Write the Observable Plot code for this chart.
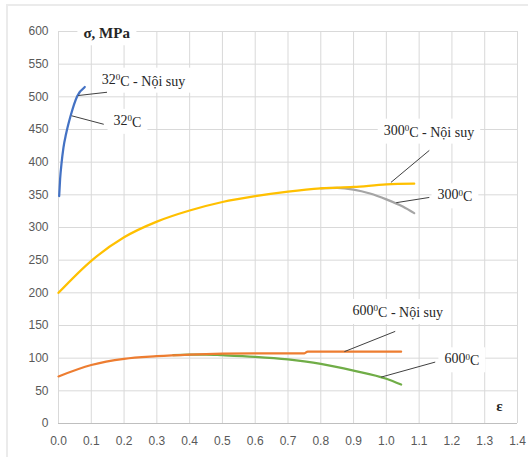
<!DOCTYPE html>
<html>
<head>
<meta charset="utf-8">
<script src="https://cdn.jsdelivr.net/npm/d3@7"></script>
<script src="https://cdn.jsdelivr.net/npm/@observablehq/plot@0.6"></script>
<style>
  html, body { margin: 0; padding: 0; background: #fff; overflow: hidden; }
  #wrap { position: relative; width: 528px; height: 457px; }
  #wrap::before { content: ""; position: absolute; left: 6px; top: 4px; right: -10px; bottom: -10px;
    border: 2px solid #ebebeb; pointer-events: none; }
  #wrap svg { position: absolute; left: 0; top: 0; }
</style>
</head>
<body>
<div id="wrap"></div>
<script>
// 32°C (measured and interpolated curves coincide)
const eps32 = [0.002, 0.005, 0.009, 0.015, 0.023, 0.037, 0.057, 0.08];
const sig32 = [348, 375, 397, 422, 443, 471, 501, 515];

// 300°C - interpolated
const eps300i = [0, 0.1, 0.2, 0.3, 0.4, 0.5, 0.6, 0.7, 0.8, 0.9, 1.0, 1.085];
const sig300i = [200, 249, 285, 309, 326, 339, 348, 355, 360, 362, 366, 367];
// 300°C - measured (diverging part)
const eps300m = [0.8, 0.85, 0.9, 0.95, 1.0, 1.05, 1.085];
const sig300m = [360, 360.5, 358, 352, 343, 332, 322];

// 600°C - interpolated
const eps600i = [0, 0.1, 0.2, 0.3, 0.4, 0.5, 0.6, 0.75, 0.76, 0.9, 1.045];
const sig600i = [72, 89.5, 99, 103, 105.5, 107, 107.5, 107.5, 110, 110, 110];
// 600°C - measured (diverging part)
const eps600m = [0.35, 0.4, 0.45, 0.5, 0.6, 0.7, 0.75, 0.8, 0.9, 1.0, 1.045];
const sig600m = [104.5, 105.5, 105.5, 104.5, 102, 98, 95, 91.3, 81, 68.5, 59.6];

// Tick values
const xTicks = [0, 0.1, 0.2, 0.3, 0.4, 0.5, 0.6, 0.7, 0.8, 0.9, 1.0, 1.1, 1.2, 1.3, 1.4];
const yTicks = [0, 50, 100, 150, 200, 250, 300, 350, 400, 450, 500, 550, 600];

// Annotations (in data units)
const labelText = ["32⁰C - Nội suy", "32⁰C", "300⁰C - Nội suy", "300⁰C", "600⁰C - Nội suy", "600⁰C"];
const labelEps = [0.132, 0.168, 0.992, 1.156, 0.897, 1.177];
const labelSig = [527, 464, 449, 350, 173, 99];
const leadEps1 = [0.060, 0.040, 1.014, 1.030, 0.872, 0.984];
const leadSig1 = [502, 471, 369, 338, 110, 71];
const leadEps2 = [0.148, 0.138, 1.131, 1.131, 1.027, 1.149];
const leadSig2 = [507, 458, 418, 346, 141, 94];

const yTitle = "σ, MPa";
const xTitle = "ε";

const toPts = (xs, ys) => xs.map((x, i) => ({x, y: ys[i]}));
const labels = labelText.map((t, i) => ({t, x: labelEps[i], y: labelSig[i]}));
const leaders = labelText.map((t, i) => ({x1: leadEps1[i], y1: leadSig1[i], x2: leadEps2[i], y2: leadSig2[i]}));

const serif = "'Liberation Serif', 'Times New Roman', serif";
const inkOpts = {fill: "#262626", fontFamily: serif, className: "lbl"};

const chart = Plot.plot({
  width: 528,
  height: 457,
  marginLeft: 58,
  marginRight: 11,
  marginTop: 31,
  marginBottom: 34,
  style: {fontFamily: "'Liberation Sans', Arial, sans-serif", fontSize: "12px", color: "#595959", background: "transparent"},
  x: {domain: [0, 1.4], ticks: xTicks, tickFormat: d3.format(".1f"), label: null},
  y: {domain: [0, 600], ticks: yTicks, label: null},
  marks: [
    Plot.gridX(xTicks, {stroke: "#d9d9d9", strokeOpacity: 1}),
    Plot.gridY(yTicks, {stroke: "#d9d9d9", strokeOpacity: 1}),
    Plot.ruleY([0], {stroke: "#bfbfbf"}),
    Plot.axisX(xTicks, {tickSize: 0, tickPadding: 13, tickFormat: d3.format(".1f"), fill: "#595959", fontSize: 12}),
    Plot.axisY(yTicks, {tickSize: 0, tickPadding: 10, fill: "#595959", fontSize: 12}),
    Plot.line(toPts(eps300m, sig300m), {x: "x", y: "y", stroke: "#A5A5A5", strokeWidth: 2.25, curve: "monotone-x"}),
    Plot.line(toPts(eps300i, sig300i), {x: "x", y: "y", stroke: "#FFC000", strokeWidth: 2.25, curve: "monotone-x"}),
    Plot.line(toPts(eps600m, sig600m), {x: "x", y: "y", stroke: "#70AD47", strokeWidth: 2.25, curve: "monotone-x"}),
    Plot.line(toPts(eps600i, sig600i), {x: "x", y: "y", stroke: "#ED7D31", strokeWidth: 2.25, curve: "monotone-x"}),
    Plot.line(toPts(eps32, sig32), {x: "x", y: "y", stroke: "#4472C4", strokeWidth: 2.25, curve: "monotone-x"}),
    Plot.text(labels, {x: "x", y: "y", text: "t", textAnchor: "start", fontSize: 14, ...inkOpts}),
    Plot.text([yTitle], {x: 0.076, y: 597, text: d => d, textAnchor: "start", fontSize: 15, fontWeight: "bold", ...inkOpts}),
    Plot.text([xTitle], {x: 1.345, y: 26.5, text: d => d, textAnchor: "middle", fontSize: 15, fontWeight: "bold", ...inkOpts}),
    Plot.link(leaders, {x1: "x1", y1: "y1", x2: "x2", y2: "y2", stroke: "#404040", strokeWidth: 1})
  ]
});

// Render the "⁰" as a small raised zero, like the original superscript
d3.select(chart).selectAll("g.lbl text").each(function() {
  const s = this.textContent;
  const k = s.indexOf("⁰");
  if (k < 0) return;
  const el = d3.select(this);
  el.text(null);
  el.append("tspan").text(s.slice(0, k));
  el.append("tspan").attr("dy", "-0.4em").attr("font-size", "9px").text("0");
  el.append("tspan").attr("dy", "0.4em").text(s.slice(k + 1));
});

document.getElementById("wrap").appendChild(chart);

// White label boxes (as in the spreadsheet chart) behind each annotation text
const firstLbl = chart.querySelector("g.lbl");
const boxes = d3.create("svg:g").attr("aria-hidden", "true");
d3.select(chart).selectAll("g.lbl text").each(function() {
  const b = this.getBBox();
  const m = this.getCTM();
  const padX = 6, padY = 4;
  boxes.append("rect")
    .attr("x", b.x + m.e - padX).attr("y", b.y + m.f - padY)
    .attr("width", b.width + 2 * padX).attr("height", b.height + 2 * padY)
    .attr("fill", "white");
});
firstLbl.parentNode.insertBefore(boxes.node(), firstLbl);
</script>
</body>
</html>
